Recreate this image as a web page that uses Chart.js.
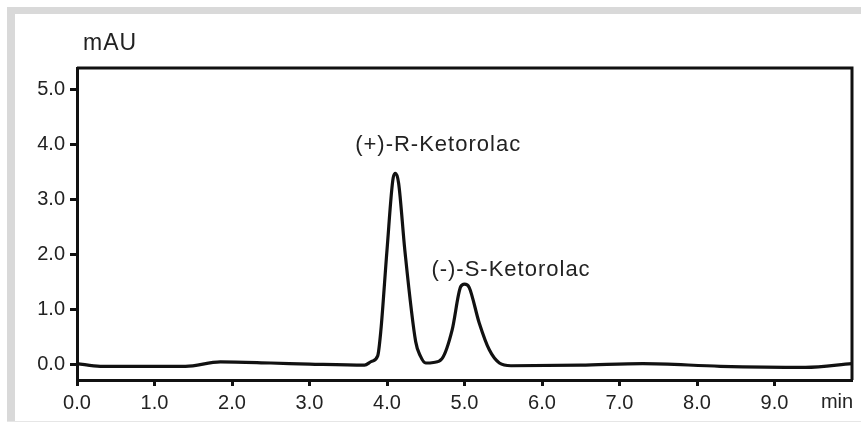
<!DOCTYPE html>
<html>
<head>
<meta charset="utf-8">
<script src="https://cdn.jsdelivr.net/npm/chart.js@4"></script>
<style>
  html, body { margin: 0; padding: 0; background: #fff; }
  #wrap { position: relative; width: 861px; height: 426px; }
</style>
</head>
<body>
<div id="wrap"><canvas id="myChart"></canvas></div>
<script>
// retention time (min) and absorbance (mAU)
var times = [0, 0.3, 1.4, 1.85, 2.5, 3.0, 3.71, 3.8, 3.88, 3.92, 4.0, 4.08, 4.11, 4.15, 4.23, 4.37, 4.43, 4.5, 4.6, 4.71, 4.84, 4.95, 5.0, 5.06, 5.19, 5.32, 5.45, 5.6, 6.5, 7.3, 8.3, 9.4, 10];
var signal = [0.01, -0.04, -0.04, 0.04, 0.02, 0.0, -0.02, 0.05, 0.15, 0.6, 2.08, 3.4, 3.48, 3.3, 2.08, 0.41, 0.15, 0.02, 0.03, 0.1, 0.62, 1.41, 1.46, 1.4, 0.75, 0.26, 0.02, -0.03, -0.02, 0.01, -0.04, -0.06, 0.01];

var xTicks = [0, 1, 2, 3, 4, 5, 6, 7, 8, 9];
var yTicks = [0, 1, 2, 3, 4, 5];

var peakNames = ["(+)-R-Ketorolac", "(-)-S-Ketorolac"];
var peakLabelX = [4.66, 5.6];
var peakLabelY = [4.0, 1.72];

var points = times.map(function(t, i) {
    return {x: t, y: signal[i]};
});

var FONT = "'Liberation Sans', Arial, sans-serif";

// gray frame, box around the plot, and the extra texts
var decor = {
    id: 'decor',
    beforeDraw: function(chart) {
        var ctx = chart.ctx;
        ctx.save();
        ctx.fillStyle = '#d9d9d9';
        ctx.fillRect(7, 7, 854, 7);
        ctx.fillRect(7, 7, 8, 415);
        ctx.fillStyle = '#e6e6e6';
        ctx.fillRect(7, 421, 854, 1);
        ctx.restore();
    },
    afterDraw: function(chart) {
        var ctx = chart.ctx;
        var a = chart.chartArea;
        var xs = chart.scales.x, ys = chart.scales.y;
        ctx.save();
        ctx.strokeStyle = '#111';
        ctx.lineWidth = 3;
        ctx.beginPath();
        ctx.moveTo(a.left, a.top);
        ctx.lineTo(a.right, a.top);
        ctx.lineTo(a.right, a.bottom);
        ctx.stroke();

        ctx.fillStyle = '#222';
        ctx.font = '23px ' + FONT;
        ctx.textBaseline = 'middle';
        ctx.textAlign = 'left';
        ctx.letterSpacing = '1px';
        ctx.fillText('mAU', 83, 44);
        ctx.letterSpacing = '0px';

        ctx.font = '20px ' + FONT;
        ctx.textAlign = 'center';
        ctx.fillText('min', 837, 402);

        ctx.font = '22px ' + FONT;
        ctx.letterSpacing = '1px';
        for (var i = 0; i < peakNames.length; i++) {
            ctx.fillText(peakNames[i], xs.getPixelForValue(peakLabelX[i]), ys.getPixelForValue(peakLabelY[i]));
        }
        ctx.restore();
    }
};

const ctx = document.getElementById('myChart').getContext('2d');
const myChart = new Chart(ctx, {
    type: 'line',
    data: {
        datasets: [
            {
                label: 'Ketorolac',
                data: points,
                borderColor: '#111',
                borderWidth: 3.2,
                pointRadius: 0,
                fill: false,
                cubicInterpolationMode: 'monotone'
            }
        ]
    },
    options: {
        responsive: true,
        maintainAspectRatio: false,
        animation: false,
        layout: {
            padding: {left: 0, right: 9, top: 68, bottom: 0}
        },
        plugins: {
            legend: {display: false},
            tooltip: {enabled: false}
        },
        scales: {
            x: {
                type: 'linear',
                min: 0,
                max: 10,
                afterBuildTicks: function(scale) {
                    scale.ticks = xTicks.map(function(v) { return {value: v}; });
                },
                afterFit: function(scale) {
                    scale.height = 46;
                },
                border: {display: true, color: '#111', width: 3},
                grid: {drawOnChartArea: false, drawTicks: true, tickLength: 6, tickWidth: 3, tickColor: '#111'},
                ticks: {
                    color: '#222',
                    padding: 5,
                    maxRotation: 0,
                    font: {family: FONT, size: 20},
                    callback: function(v) { return Number(v).toFixed(1); }
                }
            },
            y: {
                min: -0.29,
                max: 5.4,
                afterBuildTicks: function(scale) {
                    scale.ticks = yTicks.map(function(v) { return {value: v}; });
                },
                afterFit: function(scale) {
                    scale.width = 77;
                },
                border: {display: true, color: '#111', width: 3},
                grid: {drawOnChartArea: false, drawTicks: true, tickLength: 7, tickWidth: 3, tickColor: '#111'},
                ticks: {
                    color: '#222',
                    padding: 5,
                    font: {family: FONT, size: 20},
                    callback: function(v) { return Number(v).toFixed(1); }
                }
            }
        }
    },
    plugins: [decor]
});
</script>
</body>
</html>
